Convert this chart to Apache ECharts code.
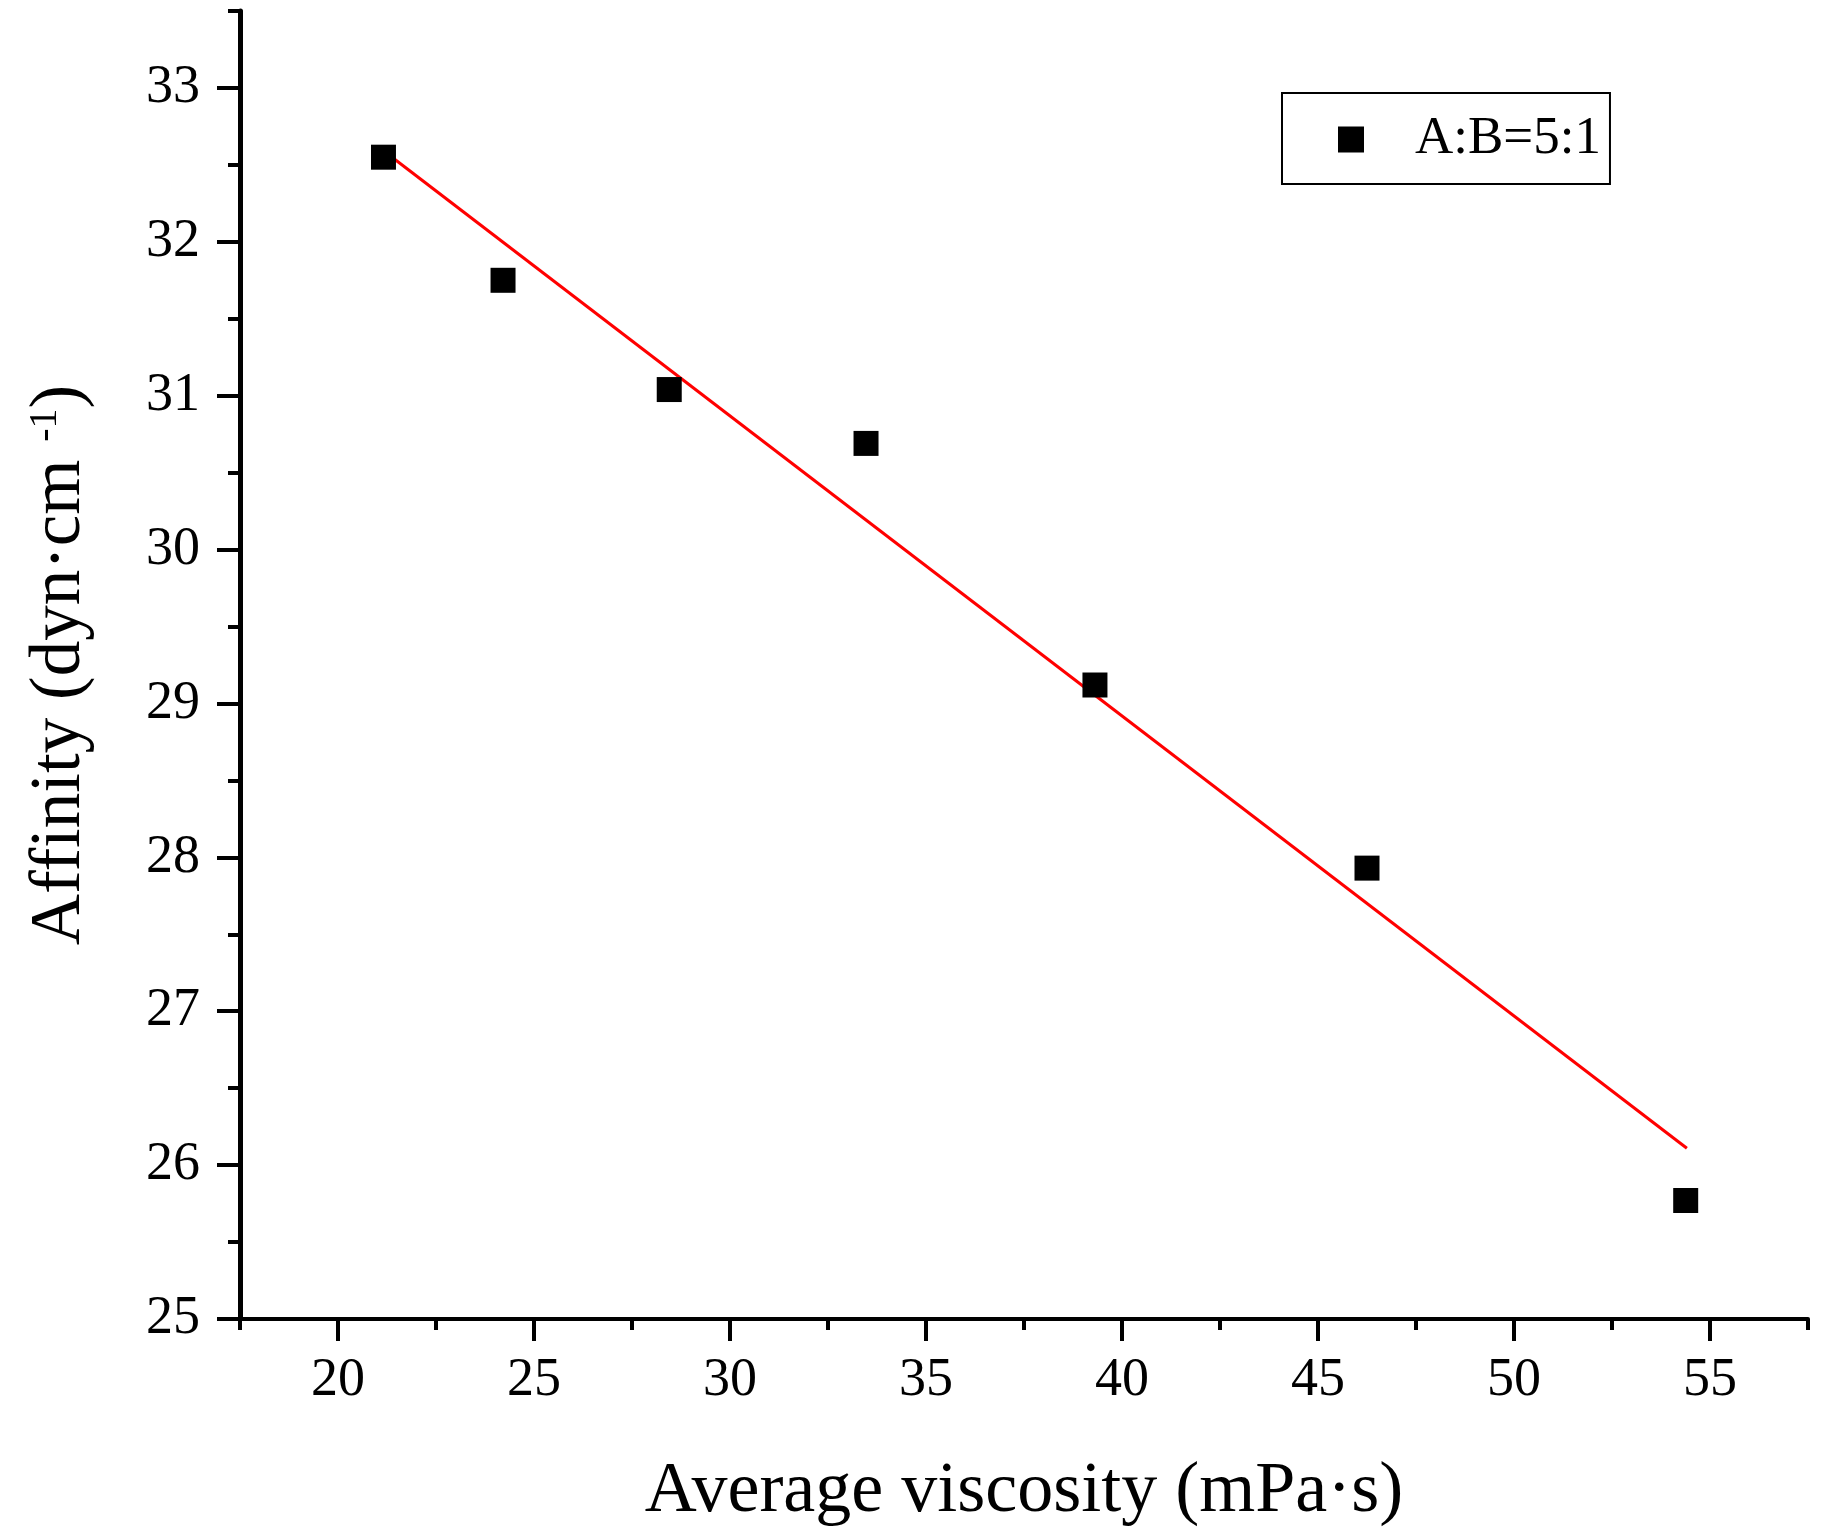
<!DOCTYPE html>
<html>
<head>
<meta charset="utf-8">
<script src="https://cdn.jsdelivr.net/npm/echarts@6/dist/echarts.min.js"></script>
<style>
html,body{margin:0;padding:0;background:#fff;}
#chart{width:1825px;height:1539px;}
</style>
</head>
<body>
<div id="chart"></div>
<script>
// Data
var seriesName = 'A:B=5:1';
var viscosity = [21.16, 24.21, 28.45, 33.47, 39.31, 46.25, 54.38];
var affinity = [32.55, 31.75, 31.04, 30.69, 29.12, 27.93, 25.77];
var fitX = [21.07, 54.41];
var fitY = [32.61, 26.11];
var xMajorTicks = [20, 25, 30, 35, 40, 45, 50, 55];
var xMinorTicks = [17.5, 22.5, 27.5, 32.5, 37.5, 42.5, 47.5, 52.5, 57.5];
var yMajorTicks = [25, 26, 27, 28, 29, 30, 31, 32, 33];
var yMinorTicks = [25.5, 26.5, 27.5, 28.5, 29.5, 30.5, 31.5, 32.5, 33.5];

var FONT = '"Liberation Serif", "Times New Roman", serif';
var scatterData = viscosity.map(function (v, i) { return [v, affinity[i]]; });
var fitData = fitX.map(function (v, i) { return [v, fitY[i]]; });

var chart = echarts.init(document.getElementById('chart'), null, {renderer: 'canvas'});
var xRange = {min: 17.5, max: 57.5};
var yRange = {min: 25, max: 33.5};

chart.setOption({
  backgroundColor: '#ffffff',
  animation: false,
  grid: {left: 240, right: 17, top: 11, bottom: 220},
  legend: {
    left: 1282, top: 93,
    padding: [20, 9, 18, 56],
    borderColor: '#000', borderWidth: 2,
    itemWidth: 26, itemHeight: 26,
    data: [{name: seriesName, icon: 'rect', itemStyle: {color: '#000', opacity: 1}}],
    textStyle: {fontFamily: FONT, fontSize: 53, color: '#000', padding: [0, 0, 0, 46]}
  },
  xAxis: [{
    type: 'value', min: xRange.min, max: xRange.max,
    name: 'Average viscosity (mPa·s)', nameLocation: 'middle', nameGap: 137,
    nameTextStyle: {fontFamily: FONT, fontSize: 72, color: '#000'},
    axisLine: {show: true, onZero: false, lineStyle: {color: '#000', width: 4}},
    axisTick: {show: true, customValues: xMajorTicks, length: 22, lineStyle: {color: '#000', width: 4}},
    axisLabel: {customValues: xMajorTicks, margin: 35, fontFamily: FONT, fontSize: 54, color: '#000'},
    splitLine: {show: false}
  }, {
    type: 'value', min: xRange.min, max: xRange.max, position: 'bottom',
    axisLine: {show: false, onZero: false},
    axisTick: {show: true, customValues: xMinorTicks, length: 11, lineStyle: {color: '#000', width: 4}},
    axisLabel: {show: false},
    splitLine: {show: false}
  }],
  yAxis: [{
    type: 'value', min: yRange.min, max: yRange.max,
    name: 'Affinity (dyn·cm {sup|-1})', nameLocation: 'middle', nameGap: 144,
    nameTextStyle: {fontFamily: FONT, fontSize: 71, color: '#000',
      rich: {sup: {fontFamily: FONT, fontSize: 40, color: '#000', verticalAlign: 'top', padding: [0, 0, 30, 0]}}},
    axisLine: {show: true, onZero: false, lineStyle: {color: '#000', width: 5}},
    axisTick: {show: true, customValues: yMajorTicks, length: 23, lineStyle: {color: '#000', width: 4}},
    axisLabel: {customValues: yMajorTicks, margin: 40, fontFamily: FONT, fontSize: 54, color: '#000'},
    splitLine: {show: false}
  }, {
    type: 'value', min: yRange.min, max: yRange.max, position: 'left',
    axisLine: {show: false, onZero: false},
    axisTick: {show: true, customValues: yMinorTicks, length: 12, lineStyle: {color: '#000', width: 4}},
    axisLabel: {show: false},
    splitLine: {show: false}
  }],
  series: [{
    name: seriesName, type: 'scatter', xAxisIndex: 0, yAxisIndex: 0,
    symbol: 'rect', symbolSize: 25,
    itemStyle: {color: '#000', opacity: 1},
    data: scatterData, z: 3
  }, {
    name: 'fit', type: 'line', xAxisIndex: 0, yAxisIndex: 0,
    showSymbol: false, symbol: 'none',
    lineStyle: {color: '#ff0000', width: 3},
    data: fitData, z: 2
  }]
});
</script>
</body>
</html>
